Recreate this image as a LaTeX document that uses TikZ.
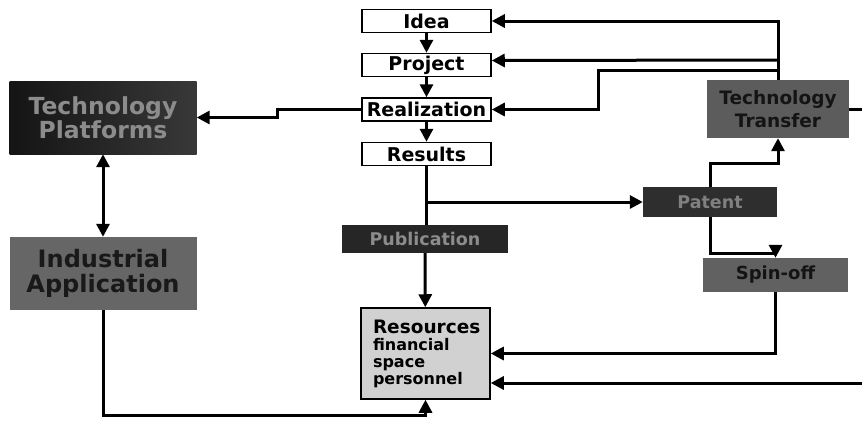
\documentclass[tikz,border=0pt]{standalone}
\usepackage{fontspec}
\setmainfont{DejaVu Sans}
\usetikzlibrary{arrows.meta}
\begin{document}
\begin{tikzpicture}[x=1pt,y=-1pt,
  flow/.style={line width=3pt, -{Triangle[length=13pt,width=13pt]}},
  link/.style={line width=3pt},
  both/.style={line width=3pt, {Triangle[length=13pt,width=13pt]}-{Triangle[length=13pt,width=13pt]}},
  stage/.style={draw=black, line width=1.5pt, fill=white, minimum width=129pt,
    minimum height=23pt, inner sep=0pt, font=\fontsize{19}{20}\selectfont\bfseries},
  shade/.style={inner sep=0pt, align=center},
  fsize/.style={font=\fontsize{#1}{#1}\selectfont\bfseries}
]
\useasboundingbox (0,0) rectangle (862,426);

% research pipeline
\node[stage] (idea)    at (426.5,21)    {Idea};
\node[stage] (project) at (426.5,65)    {Project};
\node[stage] (real)    at (426.5,109.5) {Realization};
\node[stage] (results) at (426.5,154)   {Results};

% platforms and industry
\node[shade, left color=black!92, right color=black!78, text=black!45,
  minimum width=187pt, minimum height=73pt,
  font=\fontsize{23.5}{22}\selectfont\bfseries] (tp) at (103,117.5) {Technology\\Platforms};
\node[shade, fill=black!60, text=black!90, minimum width=187pt, minimum height=73pt,
  font=\fontsize{24}{25}\selectfont\bfseries] (ia) at (103,273.5) {Industrial\\Application};

% exploitation
\node[shade, fill=black!85, text=black!45, minimum width=166pt, minimum height=28pt,
  fsize=17.5] (pub) at (425,239) {Publication};
\node[shade, fill=black!82, text=black!50, minimum width=134pt, minimum height=30pt,
  fsize=17.5] (patent) at (710,202) {Patent};
\node[shade, fill=black!62, text=black!92, minimum width=145pt, minimum height=34pt,
  fsize=18] (spin) at (775.5,275) {Spin-off};
\node[shade, fill=black!64, text=black!92, minimum width=142pt, minimum height=58pt,
  font=\fontsize{18.5}{23}\selectfont\bfseries] (tt) at (778,109) {Technology\\Transfer};

% resources
\node[draw=black, line width=1.5pt, fill=black!18, minimum width=129pt,
  minimum height=91pt, inner sep=0pt, text width=105pt, align=left,
  font=\fontsize{16}{17}\selectfont\bfseries] (res) at (425.5,353.5)
  {{\fontsize{18.5}{20}\selectfont Resources}\\financial\\space\\personnel};

% free ends on the right margin
\coordinate (ttout) at (862,109);
\coordinate (extin) at (862,383);
\coordinate (tap)   at (778,70);

% pipeline steps
\draw[flow] (idea) -- (project);
\draw[flow] (project) -- (real);
\draw[flow] (real) -- (results);
\draw[link] (results.south) -- (results.south |- pub.north);
\draw[flow] (results.south |- patent.west) -- (patent.west);
\draw[flow] (pub) -- (res);

% realization feeds the platforms
\draw[flow] (real.west) -- ++(-84,0) |- (tp.east);
\draw[both] (tp) -- (ia);
\draw[flow] (ia.south) -- ++(0,105) -| (res.south);

% patents, transfer and spin-off
\draw[flow] (patent.north) -- ++(0,-23) -| (tt.south);
\draw[flow] (patent.south) -- ++(0,36) -| (spin.north);
\draw[flow] (spin.south) |- (res.east);
\draw[flow] (extin) -- (extin -| res.east);
\draw[link] (tt.east) -- (ttout);

% transfer feeds back into the pipeline
\draw[flow] (tt.north) |- (idea.east);
\draw[flow] (tt.north |- 0,60) -- ([yshift=4.5pt]project.east);
\draw[flow] (tap) -- (598,70) |- (real.east);
\end{tikzpicture}
\end{document}
